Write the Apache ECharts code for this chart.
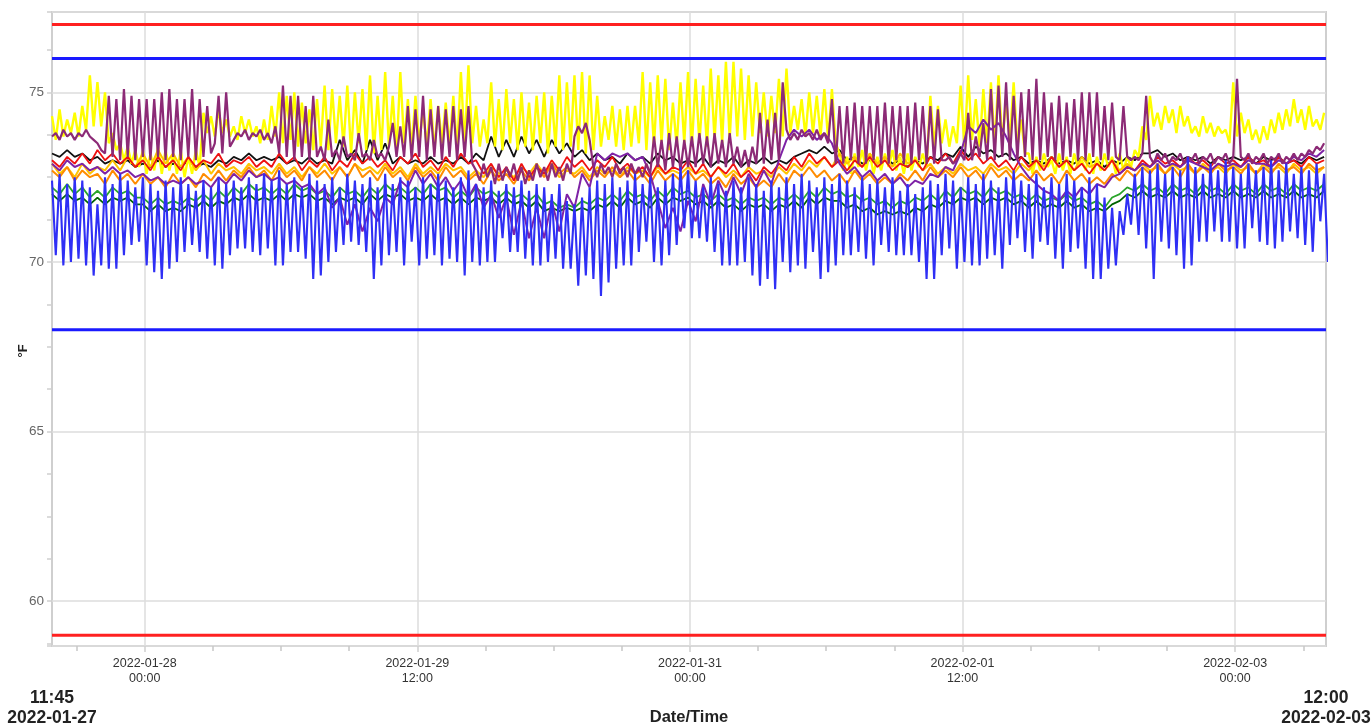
<!DOCTYPE html>
<html><head><meta charset="utf-8">
<script src="https://cdn.jsdelivr.net/npm/echarts@6/dist/echarts.min.js"></script>
<style>html,body{margin:0;padding:0;background:#fff}#c{width:1371px;height:728px}</style>
</head><body><div id="c"></div>
<script>
// ---- axis / time settings ----
const startTime = '2022-01-27T11:45:00Z';
const endTime = '2022-02-03T12:00:00Z';
const majorTickTimes = ['2022-01-28T00:00:00Z','2022-01-29T12:00:00Z','2022-01-31T00:00:00Z','2022-02-01T12:00:00Z','2022-02-03T00:00:00Z'];
const minorTickStepHours = 9;
const yRange = [58.68, 77.37];
const redLimits = [77, 59];
const blueLimits = [76, 68];

// ---- blue (lowest) series, half-hourly: high then low each hour ----
const blueHigh = [
72.4,72.6,72.3,72.5,72.4,72.2,71.7,
72.5,72.3,72.6,72.4,72.2,72.5,
72.3,72.1,72.4,72.2,72.5,72.3,72.1,72.4,72.2,72.5,72.3,72.4,
72.2,72.5,72.3,72.6,72.4,72.7,72.3,72.5,72.2,72.6,72.4,72.3,
72.5,72.2,72.6,72.4,72.3,72.5,72.2,72.6,72.3,72.5,72.4,72.2,
72.5,72.3,72.6,72.4,72.2,72.5,72.7,72.3,72.2,72.4,72.1,72.3,
72.2,72.4,72.1,72.3,72.2,72.0,72.3,71.8,71.7,71.9,72.2,72.4,
72.3,72.5,72.2,72.4,72.6,72.3,72.5,72.2,72.4,72.6,72.8,72.7,
72.4,72.2,72.5,72.3,72.1,72.4,72.2,72.5,72.3,72.1,72.4,72.2,
72.5,72.3,72.6,72.4,72.2,72.5,72.3,72.6,72.4,72.2,72.5,72.3,
72.4,72.2,72.5,72.1,72.3,72.0,72.2,72.4,72.3,72.6,72.4,72.2,
72.5,72.3,72.6,72.4,72.2,72.5,72.7,72.4,72.3,72.6,72.2,72.5,
72.3,72.6,72.4,72.2,72.5,72.3,71.9,71.6,71.5,72.0,72.6,72.8,
72.7,72.9,72.6,72.8,72.7,73.1,72.8,72.6,72.9,72.7,73.0,72.8,
72.6,72.9,72.7,72.8,73.0,72.7,72.9,72.6,72.8,72.7,72.9,72.6,70.0];
const blueLow = [
70.2,69.9,70.0,70.1,69.9,69.6,69.9,69.8,69.8,70.2,70.5,70.6,
69.9,69.7,69.5,69.8,70.0,70.3,70.5,70.3,70.1,69.9,69.8,70.2,
70.4,70.4,70.3,70.2,70.4,69.9,69.9,70.3,70.3,70.1,69.5,69.6,
70.0,70.3,70.5,70.6,70.5,70.3,69.5,69.9,70.2,70.3,69.9,70.6,
69.9,70.1,70.2,69.9,70.1,70.0,69.6,70.0,69.9,70.0,70.0,70.7,
70.3,70.3,70.1,69.9,69.9,70.0,70.1,69.8,69.8,69.3,69.6,69.5,
69.0,69.4,69.8,69.9,69.9,70.3,70.6,70.0,69.9,70.2,70.5,71.0,
70.7,70.7,70.6,70.3,69.9,69.9,69.9,70.0,69.6,69.3,69.5,69.2,
70.0,69.7,69.9,69.8,70.3,69.5,69.7,69.9,70.2,70.2,70.3,70.1,
69.9,70.5,70.3,70.2,70.2,70.2,70.0,69.5,69.5,70.2,70.4,69.8,
70.0,69.9,69.9,70.1,70.2,69.8,70.5,70.7,70.3,70.1,70.6,70.5,
70.1,69.8,70.3,70.4,69.8,69.5,69.5,69.8,69.9,70.8,71.1,70.8,
70.4,69.5,70.6,70.4,70.2,69.8,69.9,70.6,70.6,70.9,70.6,70.6,
70.4,70.4,71.0,70.6,70.5,70.4,70.6,70.9,70.7,70.5,70.3,71.2];

// ---- yellow (highest) series, half-hourly: high then low each hour ----
const yellowHigh = [
74.3,74.5,74.2,74.4,74.6,75.5,75.3,75.0,73.8,73.5,73.4,73.3,
73.3,73.2,73.4,73.3,73.2,73.3,73.1,73.3,
74.4,74.3,74.5,74.2,74.0,74.3,74.2,74.0,74.2,
74.6,75.0,74.9,75.0,74.7,74.5,74.8,75.2,75.1,74.9,75.2,75.0,75.1,
75.5,74.9,75.6,74.9,75.6,74.8,74.9,74.5,74.8,74.6,74.7,74.9,75.6,75.8,
74.6,74.2,75.3,74.8,75.1,74.8,75.0,74.7,74.9,75.0,74.9,75.5,75.3,75.5,75.6,75.5,
74.9,74.3,74.6,74.5,74.6,74.6,75.6,75.3,75.5,75.4,74.7,75.3,
75.6,75.4,75.2,75.7,75.5,75.9,75.9,75.7,75.5,75.3,75.0,74.9,75.4,75.7,74.6,74.8,75.0,74.9,75.1,75.1,
73.2,73.1,73.2,73.3,73.2,73.1,73.2,73.3,73.1,73.2,73.1,73.2,
74.9,74.6,74.2,74.0,75.2,75.5,74.8,75.1,75.3,75.5,74.8,75.3,74.2,
73.2,73.1,73.2,73.0,73.2,73.1,73.2,73.0,73.2,73.1,73.2,73.1,73.2,73.1,
73.3,74.0,74.9,74.4,74.6,74.5,74.6,74.3,74.0,74.3,74.1,74.0,73.9,
75.3,74.4,74.2,73.9,74.0,74.2,74.4,74.5,74.8,74.5,74.6,74.2,74.4];
const yellowLow = [
73.6,73.7,73.8,73.7,73.9,74.0,74.0,73.5,73.3,73.0,72.9,72.8,
72.6,72.7,72.6,72.7,72.6,72.5,72.6,72.8,
73.8,73.7,73.8,73.7,73.6,73.8,73.7,73.5,73.6,
73.7,73.5,73.6,73.4,73.5,73.3,73.4,73.3,73.5,73.4,73.2,73.5,73.3,
73.2,73.3,73.4,73.2,73.5,73.3,73.5,73.4,73.3,73.5,73.4,73.3,73.4,73.5,
73.4,73.5,73.4,73.3,73.5,73.3,73.4,73.3,73.5,73.2,73.4,73.3,73.4,73.3,73.2,73.3,
73.4,73.6,73.4,73.3,73.4,73.5,73.3,73.4,73.5,73.3,73.4,73.5,
73.4,73.5,73.4,73.6,73.5,73.6,73.7,73.6,73.7,73.8,73.7,73.8,73.7,73.8,73.9,73.7,73.8,73.7,73.6,73.5,
72.7,72.6,72.8,72.7,72.6,72.7,72.8,72.7,72.6,72.7,72.8,72.8,
73.4,73.5,73.4,73.5,73.4,73.6,73.4,73.5,73.4,73.5,73.6,73.4,73.2,
72.6,72.7,72.8,72.6,72.7,72.6,72.8,72.7,72.6,72.7,72.8,72.6,72.7,72.8,
73.1,73.6,74.0,73.9,74.1,73.8,74.0,73.8,73.7,73.8,73.7,73.8,73.5,
73.7,73.8,73.6,73.5,73.6,73.8,73.9,74.0,74.1,73.9,74.0,73.9];

// ---- maroon spiky series, half-hourly ----
const maroonVals = [
73.7,73.8,73.6,73.9,73.7,73.8,73.6,73.8,73.7,73.9,73.7,73.6,73.5,
73.3,73.2,
74.9,73.1,74.8,73.0,75.1,73.1,74.9,73.0,74.8,73.1,74.8,73.0,74.8,73.1,75.0,73.0,75.1,73.1,74.8,73.0,74.8,73.1,75.1,73.0,74.8,73.1,74.6,73.2,
73.5,74.9,73.2,75.0,73.4,73.6,73.8,
73.7,73.9,73.6,73.8,73.7,73.9,73.6,73.8,73.5,
74.0,73.2,75.2,73.1,74.9,73.0,74.9,73.1,74.6,73.0,74.9,73.1,
73.4,73.0,74.2,73.1,73.3,73.0,73.7,73.1,73.2,73.0,73.8,73.1,73.2,73.0,73.6,73.1,73.2,73.0,73.4,
74.1,73.1,74.0,73.1,74.6,73.0,74.5,73.1,74.9,73.0,74.5,73.1,74.6,73.0,74.5,73.1,74.6,73.0,74.5,73.1,74.6,72.9,
72.7,72.4,72.9,72.5,72.8,72.3,72.9,72.4,72.8,72.5,72.9,72.4,72.8,72.3,72.7,72.4,72.9,72.5,72.8,72.4,72.9,72.5,72.8,72.4,72.9,72.6,
73.7,74.0,73.8,74.1,73.6,
72.8,72.5,72.9,72.6,72.8,72.5,72.9,72.6,72.8,72.5,72.9,72.6,72.8,72.5,72.9,72.6,
73.7,72.8,73.6,72.7,73.8,72.8,73.7,72.7,73.6,72.8,73.7,72.8,
73.8,72.9,73.7,72.8,73.8,72.9,73.6,72.8,73.8,72.9,
73.4,72.8,73.3,72.8,73.4,72.9,
74.4,72.9,74.2,73.0,74.4,
73.0,75.3,
73.9,73.6,73.8,73.6,73.9,73.7,73.8,73.6,73.9,73.6,73.8,73.5,
74.8,
72.9,74.6,72.9,74.6,73.0,74.7,72.9,74.6,72.9,74.6,73.0,74.6,72.9,74.7,72.9,74.6,73.0,74.6,72.9,74.6,72.9,74.7,73.0,74.6,72.9,74.6,72.9,74.5,73.0,
73.0,73.1,72.9,73.0,73.2,73.0,74.4,73.0,73.7,73.1,74.1,
73.0,75.1,73.0,75.2,73.1,75.3,73.0,74.9,73.0,75.0,73.1,75.1,73.0,75.4,73.0,75.0,73.1,74.7,73.0,74.9,73.0,74.7,73.1,74.8,73.0,75.0,73.0,75.0,73.1,75.0,73.0,74.6,73.0,74.7,
73.1,73.0,74.6,73.1,73.0,73.1,73.0,73.2,74.9,
73.1,72.9,73.2,73.0,73.2,72.9,73.1,73.0,73.2,72.9,73.1,73.0,73.2,72.9,73.1,73.0,73.2,72.9,73.1,73.0,73.2,72.9,73.1,
75.4,
73.1,73.0,73.2,72.9,73.1,73.0,73.2,72.9,73.1,73.0,73.2,72.9,73.1,73.0,73.2,73.0,73.2,73.1,73.3,73.2,73.4,73.3,73.5];

// ---- hourly middle-band series ----
const violetVals = [
72.9,72.7,73.0,72.8,72.9,72.7,72.8,72.6,72.8,72.6,72.7,72.5,
72.6,72.4,72.5,72.3,72.4,72.3,72.5,72.3,72.4,72.2,72.5,72.3,
72.6,72.4,72.7,72.5,72.6,72.4,72.5,72.3,72.4,72.2,72.3,72.0,
72.2,71.6,71.9,71.1,71.7,70.9,71.6,71.2,71.9,71.7,72.4,72.2,
72.7,72.3,72.6,72.2,72.5,72.1,72.4,71.9,72.3,71.6,72.0,71.3,
71.9,70.8,71.8,70.7,71.6,70.7,71.8,70.9,72.0,71.6,72.6,72.2,
73.2,73.0,73.2,73.1,73.2,73.0,73.1,72.6,71.8,71.0,71.6,70.9,
71.8,71.2,72.3,71.7,72.4,71.9,72.5,72.0,72.6,72.2,72.7,72.3,
73.0,73.6,73.9,73.7,73.9,73.6,73.8,73.5,72.9,72.6,72.8,72.5,
72.7,72.4,72.6,72.3,72.5,72.2,72.4,72.3,72.6,72.5,72.8,72.7,
73.2,74.0,73.8,74.2,73.9,74.1,73.7,73.2,72.8,72.5,72.3,72.1,
72.0,71.8,72.1,71.9,72.2,72.0,72.3,72.2,72.5,72.6,72.8,72.7,
72.9,72.8,73.0,72.8,72.9,72.8,73.0,72.9,72.8,72.7,72.9,72.8,
72.9,72.8,73.0,72.9,72.9,72.8,73.0,72.9,73.1,73.0,73.2,73.1,73.3];
const blackVals = [
73.2,73.1,73.3,73.1,73.2,73.0,73.1,72.9,73.0,72.9,73.0,72.8,
72.9,72.8,73.0,72.8,72.9,72.8,73.0,72.8,72.9,72.8,73.0,72.9,
73.1,73.0,73.2,73.0,73.1,73.0,73.1,72.9,73.0,72.9,73.1,72.9,
73.0,72.9,73.6,73.0,73.3,72.9,73.6,73.0,73.5,72.9,73.1,72.9,
73.0,72.9,73.1,72.9,73.0,72.9,73.1,72.9,73.2,73.0,73.7,73.1,
73.6,73.1,73.7,73.2,73.6,73.1,73.6,73.2,73.5,73.1,73.3,73.0,
73.2,73.0,73.1,72.9,73.2,73.0,73.1,72.9,73.2,73.0,73.1,72.9,
73.0,72.9,73.1,72.8,73.0,72.9,73.1,72.8,73.0,72.9,73.1,72.9,
73.0,72.9,73.1,73.2,73.3,73.2,73.4,73.2,73.3,73.0,73.1,72.9,
73.0,72.9,73.1,72.9,73.0,72.8,73.0,72.9,73.1,73.0,73.2,73.1,
73.4,73.1,73.4,73.2,73.3,73.1,73.2,73.0,73.1,72.9,73.0,72.9,
73.1,72.9,73.0,72.9,73.1,72.9,73.0,72.8,73.0,72.9,73.1,73.0,
73.2,73.2,73.3,73.1,73.2,73.0,73.1,73.0,73.1,72.9,73.1,73.0,
73.1,73.0,73.1,72.9,73.1,73.0,73.1,72.9,73.0,72.9,73.1,73.0,73.1];
const redVals = [
73.0,72.8,73.1,72.9,73.2,72.9,73.3,73.0,73.2,72.9,73.1,72.8,
73.0,72.7,73.1,72.8,73.0,72.7,73.1,72.8,73.0,72.9,73.2,72.8,
73.0,72.9,73.1,72.8,73.0,72.8,73.2,72.9,73.1,72.7,73.0,72.8,
73.1,72.7,73.0,72.8,73.2,72.9,73.1,72.8,73.0,72.7,73.1,72.9,
73.2,72.8,73.0,72.7,73.1,72.8,73.2,72.9,73.0,72.6,72.9,72.5,
72.8,72.4,72.9,72.5,72.8,72.6,73.0,72.7,73.1,72.8,73.0,72.7,
73.0,72.8,73.1,72.7,72.9,72.6,72.8,72.5,72.9,72.6,72.8,72.7,
73.0,72.6,72.9,72.5,72.8,72.6,72.9,72.5,72.7,72.4,72.8,72.6,
72.9,72.7,73.1,72.8,73.2,72.9,73.1,72.8,73.0,72.7,73.0,72.8,
73.1,72.8,73.0,72.7,72.9,72.8,73.0,72.7,73.1,72.9,73.2,72.9,
73.3,73.0,73.2,72.9,73.1,72.8,73.0,72.7,73.1,72.8,73.0,72.7,
73.1,72.8,73.0,72.7,72.9,72.6,72.9,72.7,73.0,72.6,72.8,72.7,
73.0,72.8,73.1,72.9,73.0,72.8,73.1,72.9,73.0,72.8,73.1,72.9,
73.0,72.8,73.1,72.9,73.0,72.8,73.1,72.9,73.0,72.8,73.1,72.9,73.0];
const orangeVals = [
72.7,72.5,72.8,72.4,72.7,72.5,72.6,72.3,72.7,72.4,72.6,72.3,
72.6,72.3,72.5,72.2,72.6,72.3,72.5,72.2,72.6,72.4,72.7,72.4,
72.7,72.5,72.8,72.5,72.7,72.4,72.8,72.5,72.7,72.4,72.8,72.5,
72.7,72.4,72.8,72.5,72.9,72.5,72.7,72.4,72.8,72.5,72.7,72.4,
72.8,72.5,72.7,72.4,72.8,72.5,72.7,72.4,72.6,72.3,72.7,72.4,
72.6,72.3,72.7,72.4,72.8,72.5,72.9,72.6,72.8,72.5,72.7,72.4,
72.7,72.5,72.8,72.5,72.7,72.4,72.6,72.3,72.7,72.4,72.6,72.4,
72.7,72.4,72.6,72.3,72.5,72.2,72.6,72.3,72.5,72.2,72.4,72.2,
72.6,72.3,72.7,72.5,72.8,72.5,72.7,72.4,72.6,72.3,72.7,72.4,
72.6,72.3,72.5,72.3,72.6,72.4,72.7,72.4,72.8,72.5,72.7,72.5,
72.8,72.5,72.7,72.4,72.8,72.5,72.7,72.4,72.6,72.4,72.7,72.4,
72.6,72.3,72.7,72.4,72.6,72.3,72.5,72.3,72.6,72.4,72.7,72.5,
72.8,72.6,72.9,72.6,72.8,72.5,72.9,72.6,72.8,72.6,72.9,72.7,
72.8,72.6,72.9,72.6,72.8,72.6,72.9,72.7,72.8,72.6,72.9,72.7,72.8];
const goldVals = [
72.9,72.6,72.8,72.5,72.9,72.6,72.8,72.7,73.0,72.7,73.1,72.8,
73.2,72.8,73.3,72.9,73.2,72.8,73.1,72.7,73.0,72.6,72.9,72.7,
72.8,72.6,72.9,72.7,72.8,72.6,72.9,72.6,72.8,72.5,72.8,72.6,
72.9,72.6,72.8,72.5,72.9,72.7,72.8,72.6,72.9,72.6,72.8,72.5,
72.9,72.6,72.8,72.6,72.9,72.7,72.8,72.5,72.7,72.5,72.8,72.6,
72.7,72.5,72.8,72.6,72.9,72.6,72.8,72.5,72.7,72.6,72.8,72.5,
72.8,72.6,72.7,72.5,72.8,72.6,72.7,72.5,72.8,72.6,72.7,72.6,
72.8,72.6,72.7,72.5,72.8,72.5,72.7,72.5,72.8,72.6,72.7,72.5,
72.8,72.6,72.9,72.7,73.0,72.8,73.1,72.8,73.2,72.9,73.1,72.8,
73.2,72.9,73.1,72.8,73.2,72.9,73.0,72.7,72.9,72.6,72.8,72.6,
72.9,72.7,72.8,72.6,72.9,72.7,72.8,72.6,72.9,72.7,73.0,72.8,
73.1,72.8,73.0,72.7,73.1,72.8,72.9,72.7,73.0,72.7,72.9,72.7,
72.9,72.7,72.8,72.6,72.9,72.7,72.8,72.6,72.9,72.7,72.8,72.6,
72.9,72.7,72.8,72.6,72.9,72.7,72.8,72.6,72.9,72.7,72.8,72.6,72.8];
const greenVals = [
72.2,72.0,72.3,72.0,72.2,71.9,72.1,71.9,72.2,72.0,72.1,71.9,
71.9,71.7,71.9,71.7,71.8,71.7,71.9,71.8,72.0,71.8,72.1,71.9,
72.2,72.0,72.3,72.1,72.2,72.0,72.2,72.0,72.3,72.1,72.2,72.0,
72.1,71.9,72.2,72.0,72.1,71.9,72.2,72.0,72.3,72.1,72.2,72.0,
72.2,72.0,72.3,72.1,72.2,71.9,72.1,71.9,72.2,72.0,72.1,71.9,
72.1,71.9,72.0,71.8,72.0,71.7,71.8,71.6,71.7,71.6,71.8,71.7,
71.9,71.8,72.0,71.8,72.1,71.9,72.0,71.8,72.1,71.9,72.2,72.0,
72.1,71.9,72.0,71.8,72.0,71.8,71.9,71.7,71.9,71.8,71.9,71.7,
71.9,71.8,72.0,71.8,72.1,71.9,72.2,72.0,72.1,71.9,72.0,71.8,
71.9,71.7,71.8,71.6,71.8,71.7,71.9,71.8,72.0,71.8,72.1,71.9,
72.2,72.0,72.1,71.9,72.2,72.0,72.1,71.9,72.0,71.8,72.0,71.8,
71.9,71.8,72.0,71.8,71.9,71.7,71.8,71.6,71.9,72.0,72.2,72.1,
72.3,72.1,72.2,72.0,72.3,72.1,72.2,72.0,72.3,72.1,72.2,72.0,
72.3,72.1,72.2,72.0,72.3,72.1,72.2,72.0,72.3,72.1,72.2,72.1,72.3];
const darkGreenVals = [
72.0,71.8,72.0,71.8,71.9,71.7,71.9,71.7,71.9,71.8,71.9,71.7,
71.7,71.5,71.7,71.5,71.6,71.5,71.7,71.6,71.8,71.6,71.8,71.7,
71.9,71.8,72.0,71.8,71.9,71.8,72.0,71.8,72.0,71.9,72.0,71.8,
71.9,71.7,71.9,71.8,71.9,71.7,72.0,71.8,72.0,71.9,72.0,71.8,
71.9,71.8,72.0,71.8,71.9,71.7,71.9,71.7,71.9,71.8,71.9,71.7,
71.9,71.7,71.8,71.6,71.8,71.5,71.6,71.5,71.6,71.5,71.6,71.5,
71.7,71.6,71.8,71.6,71.9,71.7,71.8,71.6,71.9,71.7,71.9,71.8,
71.9,71.7,71.8,71.6,71.8,71.6,71.7,71.5,71.7,71.6,71.7,71.5,
71.7,71.6,71.8,71.6,71.9,71.7,71.9,71.8,71.8,71.6,71.7,71.5,
71.6,71.4,71.5,71.4,71.5,71.4,71.6,71.5,71.7,71.6,71.8,71.7,
71.9,71.8,71.9,71.7,71.9,71.8,71.9,71.7,71.8,71.6,71.8,71.6,
71.7,71.6,71.8,71.6,71.7,71.5,71.6,71.5,71.7,71.8,72.0,71.9,
72.1,71.9,72.0,71.9,72.1,71.9,72.0,71.9,72.1,71.9,72.0,71.9,
72.1,71.9,72.0,71.9,72.1,71.9,72.0,71.9,72.1,71.9,72.0,71.9,72.1];

// ---- build data for the library ----
const T0 = Date.parse(startTime), T1 = Date.parse(endTime);
const HOUR = 3600000, HALF = 1800000;
const halfHourly = vals => vals.map((v, i) => [T0 + i * HALF, v]);
const hourly = vals => vals.map((v, i) => [T0 + i * HOUR, v]);
const interleave = (hi, lo) => { const out = []; hi.forEach((v, i) => { out.push(v); if (i < lo.length) out.push(lo[i]); }); return out; };
const majors = majorTickTimes.map(t => Date.parse(t));
const minors = [];
for (let t = majors[0] - minorTickStepHours * HOUR; t <= T1; t += minorTickStepHours * HOUR) { if (t >= T0 && majors.indexOf(t) < 0) minors.push(t); }
const pad = n => String(n).padStart(2, '0');
const fmtDate = d => d.getUTCFullYear() + '-' + pad(d.getUTCMonth() + 1) + '-' + pad(d.getUTCDate());
const fmtTime = d => pad(d.getUTCHours()) + ':' + pad(d.getUTCMinutes());

function lineSeries(name, color, data, width) {
  return { name, type: 'line', data, showSymbol: false, symbol: 'none', silent: true, animation: false,
    lineStyle: { color, width: width || 1.8 }, itemStyle: { color }, z: 2 };
}
function limitSeries(name, color, value) {
  return { name, type: 'line', data: [[T0, value], [T1, value]], showSymbol: false, symbol: 'none', silent: true,
    animation: false, lineStyle: { color, width: 3 }, z: 5 };
}

const series = [
  lineSeries('Black', '#111111', hourly(blackVals), 1.8),
  lineSeries('Yellow', '#ffff00', halfHourly(interleave(yellowHigh, yellowLow)), 2.4),
  lineSeries('Gold', '#ffc400', hourly(goldVals), 2),
  lineSeries('Orange', '#ff8c00', hourly(orangeVals), 2),
  lineSeries('Red', '#ee1111', hourly(redVals), 1.8),
  lineSeries('Green', '#2aa52a', hourly(greenVals), 1.8),
  lineSeries('DarkGreen', '#006400', hourly(darkGreenVals), 1.8),
  lineSeries('Violet', '#7e22a6', hourly(violetVals), 2),
  lineSeries('Maroon', '#8c2a76', halfHourly(maroonVals), 2.2),
  lineSeries('Blue', '#2f2ff5', halfHourly(interleave(blueHigh, blueLow)), 2.1),
  limitSeries('High alarm', '#ff2020', redLimits[0]),
  limitSeries('High warning', '#1a1aff', blueLimits[0]),
  limitSeries('Low warning', '#1a1aff', blueLimits[1]),
  limitSeries('Low alarm', '#ff2020', redLimits[1])
];

const chart = echarts.init(document.getElementById('c'), null, { renderer: 'canvas' });
chart.setOption({
  animation: false,
  backgroundColor: '#ffffff',
  textStyle: { fontFamily: 'Liberation Sans, Arial, sans-serif' },
  grid: { left: 52, right: 45, top: 12, bottom: 82, outerBoundsMode: 'none', containLabel: false,
    show: true, borderColor: '#cfcfcf', borderWidth: 2, backgroundColor: '#fff' },
  xAxis: [{
    type: 'value', min: T0, max: T1, position: 'bottom',
    name: 'Date/Time', nameLocation: 'middle', nameGap: 63, nameMoveOverlap: false,
    nameTextStyle: { fontWeight: 'bold', fontSize: 16.5, color: '#222' },
    axisLine: { show: false },
    axisTick: { show: true, customValues: majors, length: 6, lineStyle: { color: '#cfcfcf', width: 1.5 } },
    axisLabel: { customValues: majors, margin: 10, fontSize: 12.5, color: '#333', lineHeight: 15,
      formatter: v => { const d = new Date(v); return fmtDate(d) + '\n' + fmtTime(d); } },
    splitLine: { show: true, lineStyle: { color: '#dcdcdc', width: 1.5 } }
  }, {
    type: 'value', min: T0, max: T1, position: 'bottom',
    axisLine: { show: false },
    axisTick: { show: true, customValues: minors, length: 5, lineStyle: { color: '#c8c8c8', width: 1.5 } },
    axisLabel: { customValues: [T0, T1], margin: 42, color: '#222',
      formatter: v => { const d = new Date(v); return '{b|' + fmtTime(d) + '}\n{b|' + fmtDate(d) + '}'; },
      rich: { b: { fontWeight: 'bold', fontSize: 17.5, lineHeight: 20, color: '#222' } } },
    splitLine: { show: false }
  }],
  yAxis: {
    type: 'value', min: yRange[0], max: yRange[1], splitNumber: 4,
    name: '°F', nameLocation: 'middle', nameGap: 22, nameRotate: 90, nameMoveOverlap: false,
    nameTextStyle: { fontWeight: 'bold', fontSize: 13, color: '#222', padding: [0, 44, 0, 0] },
    axisLine: { show: false },
    axisTick: { show: true, length: 5, lineStyle: { color: '#cfcfcf', width: 1.5 } },
    minorTick: { show: true, splitNumber: 4, length: 5, lineStyle: { color: '#cfcfcf', width: 1.5 } },
    axisLabel: { showMinLabel: false, showMaxLabel: false, fontSize: 13.5, color: '#666', margin: 8 },
    splitLine: { show: true, lineStyle: { color: '#dcdcdc', width: 1.5 } }
  },
  series
});
</script></body></html>
